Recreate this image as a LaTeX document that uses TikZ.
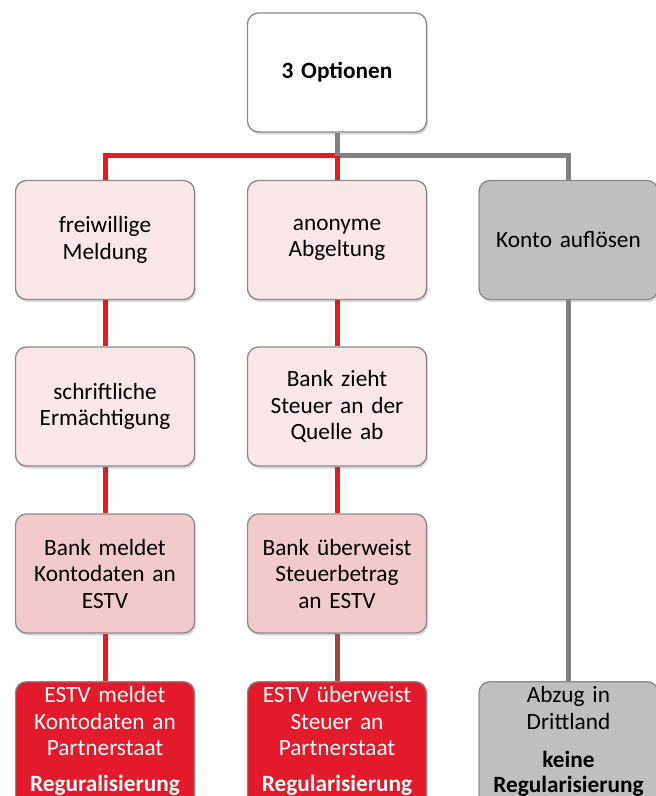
\documentclass[tikz,border=0pt]{standalone}
\usepackage{fontspec}
\setmainfont{Carlito}
\usetikzlibrary{shadows}
\definecolor{pinkA}{HTML}{F9E6E7}
\definecolor{pinkB}{HTML}{F2CACC}
\definecolor{redbox}{HTML}{E21A2B}
\definecolor{graybox}{HTML}{BFBFBF}
\definecolor{boxborder}{HTML}{8A8A8A}
\definecolor{redline}{HTML}{E31B23}
\definecolor{darkline}{HTML}{AA4444}
\definecolor{grayline}{HTML}{808080}
\begin{document}
\begin{tikzpicture}[x=1pt,y=-1pt,
  box/.style={draw=boxborder, line width=1.3pt, rounded corners=11pt,
    minimum width=179pt, minimum height=119pt, inner sep=0pt,
    text width=174pt, align=center,
    font=\fontsize{23.3}{26.5}\selectfont,
    drop shadow={opacity=0.3, shadow xshift=1.5pt, shadow yshift=-2.5pt}},
  lastbox/.style={box, minimum height=135pt, anchor=north},
  lbl/.style={inner sep=0pt, text width=178pt, align=center, anchor=north,
    font=\fontsize{23.3}{26.5}\selectfont},
  conn/.style={line width=5pt},
]
\useasboundingbox (0,0) rectangle (656,796);

% top
\node[box, fill=white, font=\fontsize{23.3}{26.5}\selectfont\bfseries] (top) at (337,72.5) {3 Optionen};

% row 1
\node[box, fill=pinkA] (f1) at (105,240) {freiwillige\\Meldung};
\node[box, fill=pinkA] (m1) at (337,240) {anonyme\\Abgeltung};
\node[box, fill=graybox] (k1) at (568.5,240) {Konto auflösen};

% row 2
\node[box, fill=pinkA] (f2) at (105,406.5) {schriftliche\\Ermächtigung};
\node[box, fill=pinkA] (m2) at (337,406.5) {Bank zieht\\Steuer an der\\Quelle ab};

% row 3
\node[box, fill=pinkB] (f3) at (105,573.5) {Bank meldet\\Kontodaten an\\ESTV};
\node[box, fill=pinkB] (m3) at (337,573.5) {Bank überweist\\Steuerbetrag\\an ESTV};

% row 4
\node[lastbox, fill=redbox] (f4) at (105,681) {};
\node[lastbox, fill=redbox] (m4) at (337,681) {};
\node[lastbox, fill=graybox] (k4) at (568.5,681) {};

\node[lbl, text=white] (f4t) at (105,686.4) {ESTV meldet\\Kontodaten an\\Partnerstaat\\[9.5pt]\textbf{Reguralisierung}};
\node[lbl, text=white] (m4t) at (337,686.4) {ESTV überweist\\Steuer an\\Partnerstaat\\[9.5pt]\textbf{Regularisierung}};
\node[lbl, text=black] (k4t) at (568.5,686.4) {Abzug in\\Drittland\\[11.5pt]\textbf{keine}\\[-1.5pt]\textbf{Regularisierung}};

% connectors
\coordinate (j) at (337,155.5);
\draw[conn, redline] (f1.north) |- (j);
\draw[conn, grayline] (top.south) -- (j) -| (k1.north);
\draw[conn, redline] (j) -- (m1.north);

\draw[conn, redline] (f1.south) -- (f2.north);
\draw[conn, redline] (f2.south) -- (f3.north);
\draw[conn, redline] (f3.south) -- (f4.north);

\draw[conn, redline] (m1.south) -- (m2.north);
\draw[conn, redline] (m2.south) -- (m3.north);
\draw[conn, darkline] (m3.south) -- (m4.north);

\draw[conn, grayline] (k1.south) -- (k4.north);
\end{tikzpicture}
\end{document}
